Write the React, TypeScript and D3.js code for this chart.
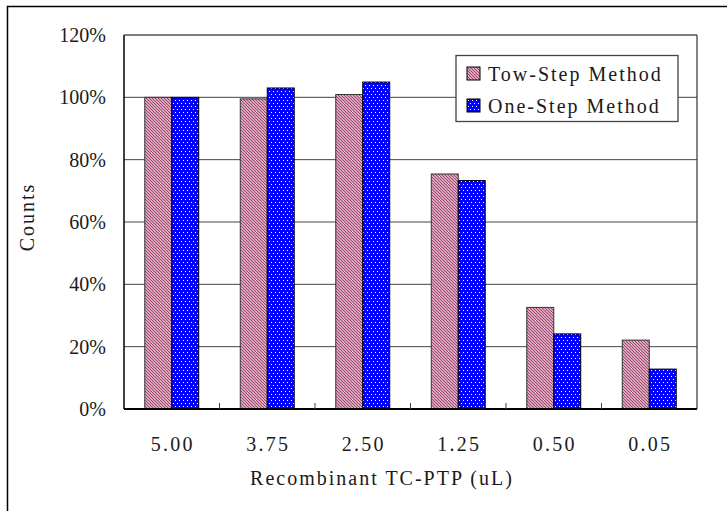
import * as d3 from 'd3';

const categories = ['5.00', '3.75', '2.50', '1.25', '0.50', '0.05'];
const towStep = [100, 99.5, 100.9, 75.4, 32.6, 22.1];
const oneStep = [100, 103.0, 104.9, 73.3, 24.1, 12.8];
const seriesNames = ['Tow-Step Method', 'One-Step Method'];
const yTicks = [0, 20, 40, 60, 80, 100, 120];

const W = 727;
const H = 511;
const margin = { top: 35, right: 30, bottom: 102, left: 124 };
const FONT = '"Liberation Serif", "Times New Roman", serif';

export default function App() {
  const x = d3.scaleBand<string>()
    .domain(categories)
    .range([margin.left, W - margin.right]);
  const inner = d3.scaleBand<string>()
    .domain(seriesNames)
    .range([0, x.bandwidth()])
    .paddingOuter(0.77);
  const y = d3.scaleLinear()
    .domain([0, 120])
    .range([H - margin.bottom, margin.top]);

  const fills = ['url(#stripe)', 'url(#dots)'];
  const series = [towStep, oneStep];
  const fmt = (d: number) => `${d}%`;
  const x0 = margin.left;
  const x1 = W - margin.right;
  const y0 = y(0);

  return (
    <svg width={W} height={H} style={{ position: 'absolute', left: 0, top: 0, background: '#fff' }}
      fontFamily={FONT}>
      <defs>
        <pattern id="stripe" patternUnits="userSpaceOnUse" width={3} height={3}>
          <rect width={3} height={3} fill="#fff" />
          <path d="M-1,-1 L4,4 M2,-1 L4,1 M-1,2 L1,4" stroke="#a3406c" strokeWidth={1.3} />
        </pattern>
        <pattern id="dots" patternUnits="userSpaceOnUse" width={4} height={6}>
          <rect width={4} height={6} fill="#0000ff" />
          <rect x={1} y={1} width={1} height={1} fill="#fff" />
          <rect x={3} y={4} width={1} height={1} fill="#fff" />
        </pattern>
      </defs>

      {/* outer chart frame, cropped on the right and bottom */}
      <rect x={7.5} y={6.5} width={760} height={540} fill="none" stroke="#000" strokeWidth={1.5} />

      {/* gridlines */}
      {yTicks.filter((t) => t > 0 && t < 120).map((t) => (
        <line key={t} x1={x0} x2={x1} y1={y(t)} y2={y(t)} stroke="#444" strokeWidth={1} />
      ))}

      {/* bars */}
      {series.map((vals, si) =>
        categories.map((c, i) => (
          <rect key={`${si}-${c}`}
            x={(x(c) ?? 0) + (inner(seriesNames[si]) ?? 0)}
            y={y(vals[i])}
            width={inner.bandwidth()}
            height={y0 - y(vals[i])}
            fill={fills[si]}
            stroke={si === 0 ? '#333' : '#000'}
            strokeWidth={1} />
        ))
      )}

      {/* plot frame */}
      <line x1={x0} x2={x1} y1={margin.top} y2={margin.top} stroke="#000" strokeWidth={1} />
      <line x1={x1} x2={x1} y1={margin.top} y2={y0} stroke="#333" strokeWidth={1.2} />
      <line x1={x0} x2={x0} y1={margin.top} y2={y0} stroke="#000" strokeWidth={1.5} />
      <line x1={x0} x2={x1} y1={y0} y2={y0} stroke="#000" strokeWidth={2} />

      {/* x ticks between groups */}
      {categories.slice(1).map((c) => (
        <line key={c} x1={x(c)} x2={x(c)} y1={y0} y2={y0 - 6} stroke="#444" strokeWidth={1} />
      ))}

      {/* y tick labels */}
      {yTicks.map((t) => (
        <text key={t} x={106} y={y(t)} dy="0.35em" textAnchor="end" fontSize={20}
          fill="#1a1a1a">{fmt(t)}</text>
      ))}

      {/* x tick labels */}
      {categories.map((c) => (
        <text key={c} x={(x(c) ?? 0) + x.bandwidth() / 2 + 1} y={451} textAnchor="middle"
          fontSize={20} letterSpacing={2.3} fill="#1a1a1a">{c}</text>
      ))}

      {/* axis titles */}
      <text x={382} y={485} textAnchor="middle" fontSize={20} letterSpacing={2} fill="#1a1a1a">
        Recombinant TC-PTP (uL)
      </text>
      <text transform="translate(34,217) rotate(-90)" textAnchor="middle" fontSize={20}
        letterSpacing={2} fill="#1a1a1a">Counts</text>

      {/* legend */}
      <g>
        <rect x={456} y={55.5} width={222} height={66} fill="#fff" stroke="#444" strokeWidth={1.3} />
        {seriesNames.map((name, i) => (
          <g key={name} transform={`translate(467,${67 + i * 32})`}>
            <rect width={13} height={13} fill={fills[i]} stroke="#000" strokeWidth={1} />
            <text x={21} y={14} fontSize={20} letterSpacing={2} fill="#1a1a1a">{name}</text>
          </g>
        ))}
      </g>
    </svg>
  );
}
